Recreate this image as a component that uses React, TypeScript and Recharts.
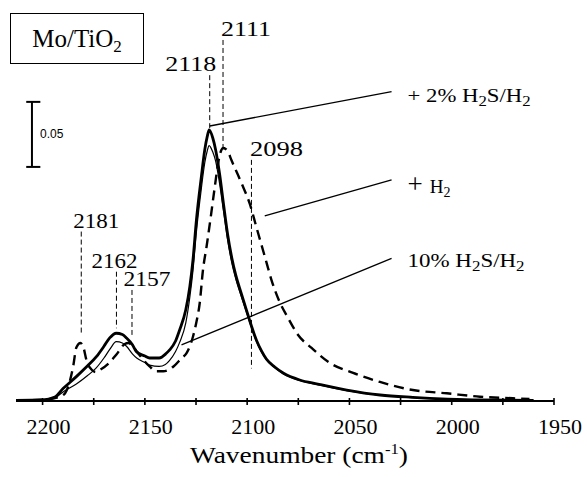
import React from 'react';
import { LineChart, Line, XAxis, YAxis, ReferenceLine } from 'recharts';

const SERIF = '"Liberation Serif", "Times New Roman", serif';
const SANS = '"Liberation Sans", Arial, sans-serif';

// spectra: wavenumber (cm-1) and absorbance
const h2s2Wn = [2213, 2200, 2194, 2190, 2183.5, 2178, 2173.7, 2170, 2167.2, 2164, 2161, 2159, 2156, 2154.2, 2150, 2147.7, 2143, 2139.5, 2138, 2135, 2133, 2130, 2128, 2126.5, 2124.8, 2122.4, 2120.7, 2119.5, 2118.6, 2116.8, 2115.4, 2113.4, 2111.5, 2109.5, 2107.5, 2105.6, 2102.8, 2099.6, 2097.9, 2095.5, 2093, 2090.6, 2086.5, 2082.4, 2074.3, 2065.5, 2051.3, 2035, 2019, 2002, 1986, 1960];
const h2s2Abs = [0.0005, 0.0008, 0.003, 0.0095, 0.0187, 0.027, 0.034, 0.042, 0.0484, 0.052, 0.051, 0.0484, 0.043, 0.038, 0.0345, 0.033, 0.033, 0.0366, 0.039, 0.046, 0.0545, 0.07, 0.088, 0.108, 0.139, 0.172, 0.193, 0.203, 0.208, 0.2018, 0.1926, 0.1734, 0.1504, 0.1274, 0.1097, 0.0967, 0.0821, 0.066, 0.0575, 0.0468, 0.0384, 0.0322, 0.0261, 0.0215, 0.0161, 0.013, 0.0084, 0.0046, 0.0028, 0.0015, 0.0008, 0.0005];

const h2Wn = [2213, 2200, 2192, 2189, 2187.5, 2185, 2183.5, 2181.5, 2180, 2178.5, 2176, 2174, 2172, 2167, 2164, 2160, 2158, 2156, 2153, 2151, 2147.7, 2144.4, 2141, 2136, 2132, 2129.7, 2126.5, 2124.8, 2123.2, 2121.6, 2119.8, 2117.8, 2115.9, 2113.9, 2112.6, 2111.8, 2110.5, 2109.3, 2107.7, 2102.8, 2098.7, 2095.5, 2090.6, 2088.1, 2084.1, 2080, 2075.1, 2068.5, 2059.6, 2048.2, 2035.1, 2019, 2002.4, 1986.2, 1970.1, 1962];
const h2Abs = [0.0005, 0.001, 0.003, 0.006, 0.011, 0.027, 0.041, 0.0445, 0.041, 0.031, 0.024, 0.0222, 0.0238, 0.03, 0.0355, 0.0435, 0.0445, 0.042, 0.036, 0.032, 0.0265, 0.0228, 0.0228, 0.0265, 0.033, 0.0366, 0.0493, 0.0606, 0.075, 0.1005, 0.1189, 0.1412, 0.1634, 0.1849, 0.1926, 0.1941, 0.1934, 0.191, 0.1849, 0.1673, 0.1512, 0.1335, 0.1066, 0.0928, 0.0759, 0.0637, 0.0506, 0.0407, 0.0292, 0.0215, 0.0146, 0.0084, 0.0059, 0.0033, 0.0021, 0.0015];

const h2s10Wn = [2213, 2200, 2194, 2190, 2183.5, 2178, 2174, 2170, 2167, 2164, 2161, 2159, 2156, 2154, 2150, 2147.7, 2143, 2140, 2138, 2135, 2133, 2130, 2128, 2126.5, 2124.8, 2122.4, 2120.7, 2119.5, 2118.6, 2116.8, 2115.4, 2113.4, 2111.5, 2109.5, 2107.5, 2105.6, 2102.8, 2099.6, 2097.9, 2095.5, 2093, 2090.6, 2086.5, 2082.4, 2074.3, 2065.5, 2051.3, 2035, 2019, 2002, 1986, 1960];
const h2s10Abs = [0.0005, 0.0008, 0.0025, 0.007, 0.013, 0.0195, 0.025, 0.033, 0.04, 0.0455, 0.0445, 0.042, 0.036, 0.033, 0.0295, 0.0275, 0.0265, 0.028, 0.031, 0.038, 0.045, 0.06, 0.08, 0.1, 0.13, 0.163, 0.183, 0.192, 0.196, 0.191, 0.184, 0.166, 0.145, 0.123, 0.106, 0.094, 0.08, 0.0645, 0.0563, 0.0458, 0.0376, 0.0315, 0.0255, 0.021, 0.0157, 0.0125, 0.008, 0.0044, 0.0026, 0.0014, 0.0008, 0.0005];

const X_TICKS = [2200, 2175, 2150, 2125, 2100, 2075, 2050, 2025, 2000, 1975, 1950];

// peak markers
const peakNames = ['2181', '2162', '2157', '2118', '2111', '2098'];
const peakWn = [2181.1, 2163.9, 2156.3, 2118.3, 2111.8, 2097.9];
const peakTop = [0.13, 0.0992, 0.0852, 0.25, 0.277, 0.185];
const peakBottom = [0.052, 0.0558, 0.0507, 0.208, 0.193, 0.025];

// leader lines to series names
const seriesNames = ['+ 2% H2S/H2', '+ H2', '10% H2S/H2'];
const leaderStartWn = [2118.3, 2091.4, 2132.1];
const leaderStartAbs = [0.211, 0.142, 0.043];
const leaderEndWn = [2029.4, 2029.4, 2029.4];
const leaderEndAbs = [0.2374, 0.1696, 0.1095];

// 0.05 absorbance scale bar
const scaleBarWn = 2205.2;
const scaleBarAbs = [0.1796, 0.2295];

const toPoints = (wn: number[], abs: number[]) => wn.map((w, i) => ({ wn: w, abs: abs[i] }));

const PEAK_DX = [15, -2, 15, -19, 23, 25];
const PEAK_WIDTH = [46, 46, 47, 51, 50, 53];
const LEADER_DY = [10, 13, 8.5];

const WnTick = (props: any) => {
  const { x, y, payload } = props;
  const major = payload.value % 50 === 0;
  return (
    <g>
      <line x1={x} x2={x} y1={y - 3} y2={y + 4} stroke="#000" strokeWidth={1.6} />
      {major && (
        <text x={x + 6} y={y + 33} textAnchor="middle" fontFamily={SERIF} fontSize={22} fill="#000">
          {payload.value}
        </text>
      )}
    </g>
  );
};

const peakLabel = (i: number) => (p: any) => {
  const vb = p.viewBox;
  return (
    <text
      x={vb.x + PEAK_DX[i]}
      y={vb.y - 4}
      textAnchor="middle"
      fontFamily={SERIF}
      fontSize={22}
      fill="#000"
      textLength={PEAK_WIDTH[i]}
      lengthAdjust="spacingAndGlyphs"
    >
      {peakNames[i]}
    </text>
  );
};

const leaderLabel = (i: number) => (p: any) => {
  const vb = p.viewBox;
  const x = vb.x + vb.width + 16;
  const y = vb.y + LEADER_DY[i];
  if (i === 1) {
    return (
      <text x={x} y={y} fontFamily={SERIF} fontSize={19} fill="#000">
        <tspan fontSize={27}>+</tspan>
        <tspan dx={7}>H</tspan>
        <tspan dy={4} fontSize={14}>2</tspan>
      </text>
    );
  }
  const head = i === 0 ? '+ 2% H' : '10% H';
  return (
    <text x={x} y={y} fontFamily={SERIF} fontSize={19} fill="#000" textLength={i === 0 ? 123 : 117} lengthAdjust="spacingAndGlyphs">
      {head}
      <tspan dy={4} fontSize={14}>2</tspan>
      <tspan dy={-4}>S/H</tspan>
      <tspan dy={4} fontSize={14}>2</tspan>
    </text>
  );
};

const axisLabel = (p: any) => {
  const vb = p.viewBox;
  return (
    <text
      x={vb.x + vb.width / 2 + 14}
      y={vb.y + 62}
      textAnchor="middle"
      fontFamily={SERIF}
      fontSize={23}
      fill="#000"
      textLength={218}
      lengthAdjust="spacingAndGlyphs"
    >
      Wavenumber (cm
      <tspan dy={-9} fontSize={14}>-1</tspan>
      <tspan dy={9}>)</tspan>
    </text>
  );
};

const scaleLabel = (p: any) => {
  const vb = p.viewBox;
  return (
    <text x={vb.x + 8} y={vb.y + vb.height / 2 + 4} fontFamily={SANS} fontSize={12} fill="#000">
      0.05
    </text>
  );
};

export default function App() {
  return (
    <div style={{ position: 'absolute', left: 0, top: 0, width: 587, height: 477, background: '#fff' }}>
      <LineChart width={587} height={477} margin={{ top: 10, right: 33, bottom: 0, left: 16 }}>
        <XAxis
          dataKey="wn"
          type="number"
          domain={[1950, 2213]}
          reversed
          allowDataOverflow
          ticks={X_TICKS}
          interval={0}
          tickLine={false}
          tickSize={0}
          tickMargin={0}
          tick={<WnTick />}
          height={76}
          axisLine={{ stroke: '#000', strokeWidth: 2 }}
          label={axisLabel}
        />
        <YAxis hide type="number" domain={[0, 0.3]} allowDataOverflow />

        {peakNames.map((name, i) => (
          <ReferenceLine
            key={name}
            segment={[{ x: peakWn[i], y: peakTop[i] }, { x: peakWn[i], y: peakBottom[i] }]}
            stroke="#000"
            strokeWidth={1}
            strokeDasharray="5 3"
            ifOverflow="visible"
            label={peakLabel(i)}
          />
        ))}

        {seriesNames.map((name, i) => (
          <ReferenceLine
            key={name}
            segment={[{ x: leaderStartWn[i], y: leaderStartAbs[i] }, { x: leaderEndWn[i], y: leaderEndAbs[i] }]}
            stroke="#000"
            strokeWidth={1.3}
            ifOverflow="visible"
            label={leaderLabel(i)}
          />
        ))}

        <ReferenceLine
          segment={[{ x: scaleBarWn, y: scaleBarAbs[0] }, { x: scaleBarWn, y: scaleBarAbs[1] }]}
          stroke="#000"
          strokeWidth={2}
          ifOverflow="visible"
          label={scaleLabel}
        />
        {scaleBarAbs.map((a) => (
          <ReferenceLine
            key={a}
            segment={[{ x: scaleBarWn + 2.8, y: a }, { x: scaleBarWn - 4.1, y: a }]}
            stroke="#000"
            strokeWidth={2}
            ifOverflow="visible"
          />
        ))}

        <Line
          data={toPoints(h2Wn, h2Abs)}
          dataKey="abs"
          type="monotone"
          dot={false}
          stroke="#000"
          strokeWidth={2.4}
          strokeDasharray="10 6"
          isAnimationActive={false}
        />
        <Line
          data={toPoints(h2s10Wn, h2s10Abs)}
          dataKey="abs"
          type="monotone"
          dot={false}
          stroke="#000"
          strokeWidth={1.2}
          isAnimationActive={false}
        />
        <Line
          data={toPoints(h2s2Wn, h2s2Abs)}
          dataKey="abs"
          type="monotone"
          dot={false}
          stroke="#000"
          strokeWidth={2.8}
          isAnimationActive={false}
        />
      </LineChart>
      <div
        style={{
          position: 'absolute',
          left: 10,
          top: 13,
          width: 134,
          height: 51,
          boxSizing: 'border-box',
          border: '1px solid #000',
          fontFamily: SERIF,
          fontSize: 25,
          lineHeight: '49px',
          textAlign: 'center',
          color: '#000',
        }}
      >
        Mo/TiO<span style={{ fontSize: 17, position: 'relative', top: 5 }}>2</span>
      </div>
    </div>
  );
}
